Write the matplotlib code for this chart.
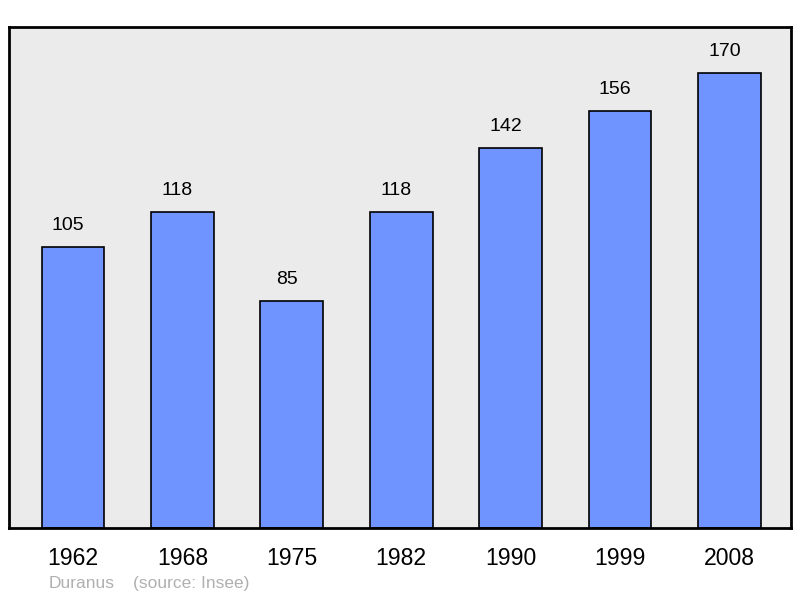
import matplotlib
matplotlib.use('Agg')
from matplotlib import pyplot as plt

years = ['1962', '1968', '1975', '1982', '1990', '1999', '2008']
population = [105, 118, 85, 118, 142, 156, 170]

plt.rcParams['font.family'] = ['Liberation Sans', 'DejaVu Sans']

fig = plt.figure(figsize=(8, 5.98), dpi=100)
ax = fig.add_axes([0.01125, 0.117, 0.9775, 0.8378])
ax.set_facecolor('#ebebeb')

x = range(len(years))
bars = ax.bar(x, population, width=0.575, color='#7094ff',
              edgecolor='black', linewidth=1.2, zorder=2)

# value labels sit a bit left of bar centre, like the original
for xi, v in zip(x, population):
    ax.text(xi - 0.045, v + 4.8, str(v), ha='center', va='bottom', fontsize=14)

ax.set_xlim(-0.585, 6.563)
ax.set_ylim(0, 187.2)
ax.set_xticks(list(x))
ax.set_xticklabels(years, fontsize=16.6)
ax.tick_params(axis='x', length=0, pad=14)
ax.set_yticks([])
for s in ax.spines.values():
    s.set_linewidth(2)

fig.text(0.061, 0.016, 'Duranus', color='#b0b0b0', fontsize=12.5)
fig.text(0.166, 0.016, '(source: Insee)', color='#b0b0b0', fontsize=12.5)

plt.savefig('out.png', dpi=100)
